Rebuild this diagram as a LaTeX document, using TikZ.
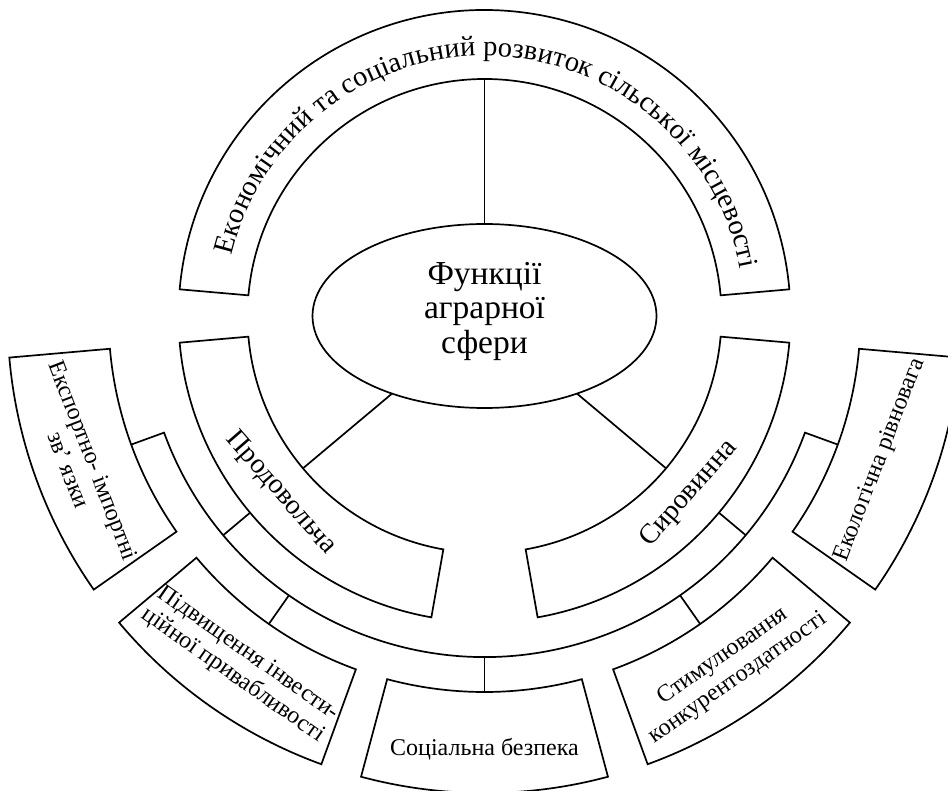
\documentclass[tikz,border=0pt]{standalone}
\usepackage{fontspec}
\setmainfont{Liberation Serif}
\usetikzlibrary{calc,decorations.text,shapes.geometric}
\newcommand\annsector[4]{%
  \draw[frame,shift={(C)}] (#1:#3pt) arc[start angle=#1,end angle=#2,radius=#3pt]
     -- (#2:#4pt) arc[start angle=#2,end angle=#1,radius=#4pt] -- cycle;}
\begin{document}
\begin{tikzpicture}[x=1pt,y=1pt,
  frame/.style={draw=black, line width=1.7pt, line join=miter},
  link/.style={draw=black, line width=1.7pt},
  boxtext/.style={font=\fontsize{24}{26.5}\selectfont, align=center, inner sep=0pt},
  bandtext/.style={font=\fontsize{28}{30}\selectfont, inner sep=0pt}]
\useasboundingbox (0,0) rectangle (948,-791);
\coordinate (C) at (484.5,-316);
% centre ellipse
\node[ellipse, draw=black, line width=1.7pt, minimum width=344pt, minimum height=184pt,
      inner sep=0pt, outer sep=0pt] (core) at (C) {};
\node[font=\fontsize{33.5}{34.5}\selectfont, align=center, inner sep=0pt] (coretext)
      at (484.5,-311) {Функції\\аграрної\\сфери};
% inner bands
\annsector{5}{175}{237}{306}
\annsector{185}{260}{237}{306}
\annsector{280}{355}{237}{306}
% outer boxes
\annsector{185}{215}{376}{477}
\annsector{220}{250}{376}{477}
\annsector{255}{285}{376}{477}
\annsector{290}{320}{376}{477}
\annsector{325}{355}{376}{477}
% coordinates for connectors
\coordinate (topin) at ($(C)+(90:237pt)$);
\coordinate (lin)   at ($(C)+(220:237pt)$);
\coordinate (rin)   at ($(C)+(320:237pt)$);
\coordinate (lout)  at ($(C)+(220:306pt)$);
\coordinate (rout)  at ($(C)+(320:306pt)$);
\coordinate (ringl) at ($(C)+(220:341pt)$);
\coordinate (ringr) at ($(C)+(320:341pt)$);
\coordinate (ringa) at ($(C)+(200:341pt)$);
\coordinate (ringe) at ($(C)+(340:341pt)$);
\coordinate (exin)  at ($(C)+(200:376pt)$);
\coordinate (ecin)  at ($(C)+(340:376pt)$);
\coordinate (r235)  at ($(C)+(235:341pt)$);
\coordinate (b235)  at ($(C)+(235:376pt)$);
\coordinate (r270)  at ($(C)+(270:341pt)$);
\coordinate (b270)  at ($(C)+(270:376pt)$);
\coordinate (r305)  at ($(C)+(305:341pt)$);
\coordinate (b305)  at ($(C)+(305:376pt)$);
% connectors
\draw[link] (core.north) -- (topin);
\draw[link] (core.220) -- (lin);
\draw[link] (core.320) -- (rin);
\draw[link] (lout) -- (ringl);
\draw[link] (rout) -- (ringr);
\draw[link] (exin) -- (ringa) arc[start angle=200,end angle=340,radius=341pt] -- (ecin);
\draw[link] (r235) -- (b235);
\draw[link] (r270) -- (b270);
\draw[link] (r305) -- (b305);
% texts
\path[shift={(C)}, decorate, decoration={text along path, text align=fit to path,
   text={|\fontsize{28.5}{30}\selectfont|Економічний та соціальний розвиток сільської місцевості}}]
   (166.5:260pt) arc[start angle=166.5,end angle=10.5,radius=260pt];
\node[bandtext, rotate=-49] (prod) at ($(C)+(221:270pt)$) {Продовольча};
\node[bandtext, rotate=49] (syr) at ($(C)+(319:271pt)$) {Сировинна};
\node[boxtext, rotate=-69] (exp) at ($(C)+(200.3:430pt)$) {Експортно- імпортні\\зв’ язки};
\node[boxtext, rotate=-35] (inv) at ($(C)+(235:425.5pt)$) {Підвищення інвести-\\ційної привабливості};
\node[boxtext, anchor=base] (soc) at (484.5,-755) {Соціальна безпека};
\node[boxtext, rotate=35] (comp) at ($(C)+(305:429pt)$) {Стимулювання\\конкурентоздатності};
\node[boxtext, rotate=69] (eco) at ($(C)+(340:421pt)$) {Екологічна рівновага};
\end{tikzpicture}
\end{document}
